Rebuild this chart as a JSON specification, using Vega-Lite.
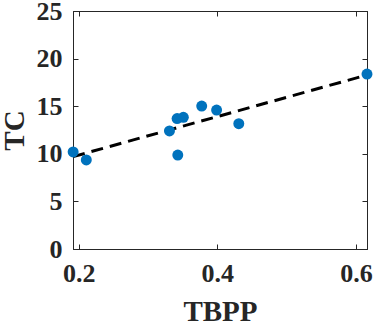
{
  "$schema": "https://vega.github.io/schema/vega-lite/v6.json",
  "width": 294,
  "height": 238,
  "autosize": "none",
  "padding": {"left": 73, "top": 11, "right": 9, "bottom": 74},
  "background": "white",
  "config": {
    "view": {"stroke": "#262626", "strokeWidth": 1},
    "axis": {
      "labelFont": "Liberation Serif",
      "titleFont": "Liberation Serif",
      "labelFontWeight": "bold",
      "titleFontWeight": "bold",
      "labelColor": "#262626",
      "titleColor": "#262626",
      "labelFontSize": 26,
      "titleFontSize": 29,
      "grid": false,
      "domainColor": "#262626",
      "tickColor": "#262626",
      "tickSize": -5,
      "labelPadding": 16
    }
  },
  "datasets": {
    "pts": [
      {"TBPP": 0.192, "TC": 10.19},
      {"TBPP": 0.211, "TC": 9.35},
      {"TBPP": 0.331, "TC": 12.4},
      {"TBPP": 0.342, "TC": 13.7},
      {"TBPP": 0.351, "TC": 13.83},
      {"TBPP": 0.343, "TC": 9.87},
      {"TBPP": 0.3775, "TC": 15.02},
      {"TBPP": 0.399, "TC": 14.6},
      {"TBPP": 0.431, "TC": 13.16},
      {"TBPP": 0.616, "TC": 18.38}
    ],
    "fit": [
      {"TBPP": 0.192, "TC": 9.7},
      {"TBPP": 0.616, "TC": 18.28}
    ]
  },
  "resolve": {"axis": {"x": "independent", "y": "independent"}},
  "layer": [
    {
      "data": {"name": "fit"},
      "mark": {"type": "line", "color": "black", "strokeWidth": 3, "strokeDash": [12, 7]},
      "encoding": {
        "x": {"field": "TBPP", "type": "quantitative",
              "scale": {"domain": [0.1918, 0.616], "nice": false, "zero": false},
              "axis": {"title": "TBPP", "values": [0.2, 0.4, 0.6], "format": ".1f",
                       "titleBaseline": "alphabetic", "titleY": 71, "labelFlush": false}},
        "y": {"field": "TC", "type": "quantitative",
              "scale": {"domain": [0, 25], "nice": false},
              "axis": {"title": "TC", "values": [0, 5, 10, 15, 20, 25],
                       "titleBaseline": "alphabetic", "titleX": -50, "titleY": 119, "titleAngle": -90}}
      }
    },
    {
      "data": {"name": "pts"},
      "mark": {"type": "circle", "color": "#0072BD", "opacity": 1, "size": 120},
      "encoding": {
        "x": {"field": "TBPP", "type": "quantitative",
              "axis": {"orient": "top", "title": null, "labels": false, "values": [0.2, 0.4, 0.6]}},
        "y": {"field": "TC", "type": "quantitative",
              "axis": {"orient": "right", "title": null, "labels": false, "values": [0, 5, 10, 15, 20, 25]}}
      }
    }
  ]
}
